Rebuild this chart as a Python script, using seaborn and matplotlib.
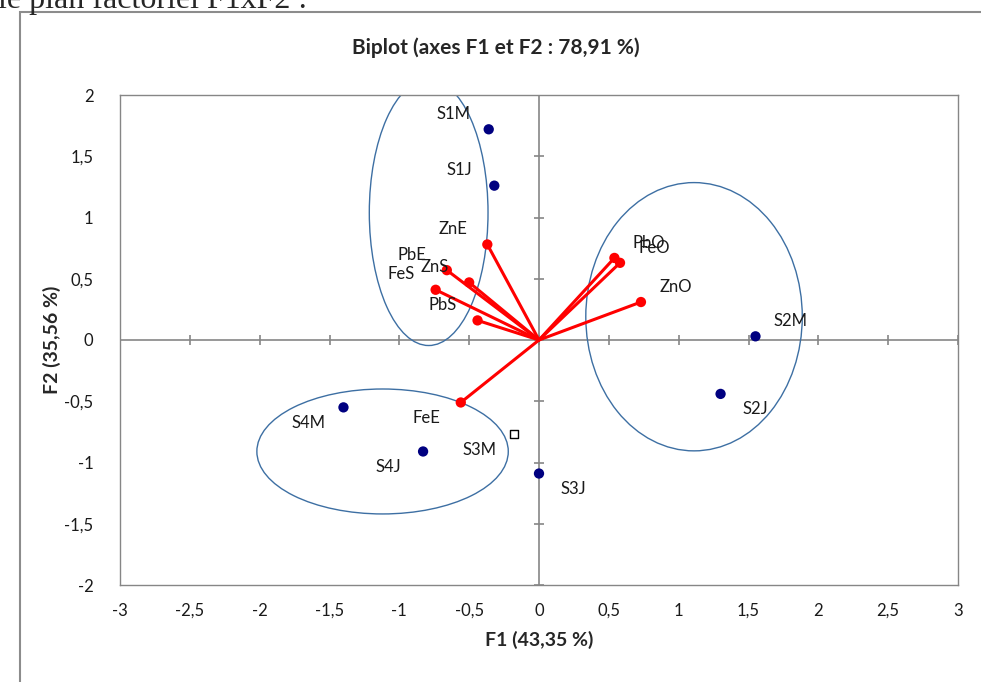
import numpy as np
import pandas as pd
import matplotlib.pyplot as plt
import seaborn as sns
from matplotlib.patches import Ellipse, Rectangle
from matplotlib.ticker import FuncFormatter

# Observations (factor scores on F1 / F2)
obs_names = ["S1M", "S1J", "S2M", "S2J", "S3J", "S4M", "S4J"]
obs_f1 = [-0.36, -0.32, 1.55, 1.30, 0.00, -1.40, -0.83]
obs_f2 = [1.72, 1.26, 0.03, -0.44, -1.09, -0.55, -0.91]

# S3M is drawn as a hollow square in the original
s3m_f1 = [-0.18]
s3m_f2 = [-0.77]

# Variables (loadings)
var_names = ["ZnE", "PbE", "ZnS", "FeS", "PbS", "FeE", "PbO", "FeO", "ZnO"]
var_f1 = [-0.37, -0.66, -0.50, -0.74, -0.44, -0.56, 0.54, 0.58, 0.73]
var_f2 = [0.78, 0.57, 0.47, 0.41, 0.16, -0.51, 0.67, 0.63, 0.31]

xticks = np.arange(-3, 3.01, 0.5)
yticks = np.arange(-2, 2.01, 0.5)

obs = pd.DataFrame({"name": obs_names, "F1": obs_f1, "F2": obs_f2})
var = pd.DataFrame({"name": var_names, "F1": var_f1, "F2": var_f2})

sns.set_style("white")
plt.rcParams["font.family"] = ["Lato", "DejaVu Sans"]

fig = plt.figure(figsize=(9.81, 6.82), dpi=100)
ax = fig.add_axes([120 / 981, 1 - 585 / 682, (958 - 120) / 981, (585 - 95) / 682])

# outer chart frame and cut text from the document page
fig.patches.append(Rectangle((20 / 981, -0.1), 1.2, 1 - 12 / 682 + 0.1,
                             transform=fig.transFigure, fill=False,
                             edgecolor="#8c8c8c", linewidth=1.5))
fig.text(-0.002, 1 - 8 / 682, "le plan factoriel F1xF2 :", family="Liberation Serif",
         fontsize=23, va="baseline", ha="left")

# zero axes with crossing tick marks
ax.axhline(0, color="#868686", lw=1.2, zorder=1)
ax.axvline(0, color="#868686", lw=1.2, zorder=1)
ax.scatter(xticks, np.zeros_like(xticks), marker="|", s=60, color="#868686", lw=1.2, zorder=1)
ax.scatter(np.zeros_like(yticks), yticks, marker="_", s=60, color="#868686", lw=1.2, zorder=1)

# ellipses grouping the sites
ell_color = "#3d6fa3"
ax.add_patch(Ellipse((-0.79, 1.04), 0.85, 2.17, fill=False, ec=ell_color, lw=1.0, zorder=2))
ax.add_patch(Ellipse((1.11, 0.19), 1.55, 2.19, fill=False, ec=ell_color, lw=1.0, zorder=2))
ax.add_patch(Ellipse((-1.12, -0.91), 1.80, 1.02, fill=False, ec=ell_color, lw=1.0, zorder=2))

# variable vectors
for _, r in var.iterrows():
    ax.plot([0, r.F1], [0, r.F2], color="#ff0000", lw=2.2, zorder=3)
sns.scatterplot(data=var, x="F1", y="F2", color="#ff0000", s=55, edgecolor="none",
                zorder=4, ax=ax, legend=False)

# observations
sns.scatterplot(data=obs, x="F1", y="F2", color="#000080", s=55, edgecolor="none",
                zorder=4, ax=ax, legend=False)
ax.scatter(s3m_f1, s3m_f2, marker="s", s=40, facecolor="white", edgecolor="black",
           lw=1.0, zorder=4)

# labels placed away from the origin
def label(names, xs, ys):
    for n, x, y in zip(names, xs, ys):
        sx = 1 if x >= 0 else -1
        sy = 1 if y >= 0 else -1
        ax.annotate(n, (x, y), xytext=(25 * sx, 11 * sy), textcoords="offset points",
                    ha="center", va="center", fontsize=12, color="#1a1a1a", zorder=5)

label(obs_names, obs_f1, obs_f2)
label(["S3M"], s3m_f1, s3m_f2)
label(var_names, var_f1, var_f2)

ax.set_xlim(-3, 3)
ax.set_ylim(-2, 2)
ax.set_xticks(xticks)
ax.set_yticks(yticks)
fmt = FuncFormatter(lambda v, p: f"{v:g}".replace(".", ","))
ax.xaxis.set_major_formatter(fmt)
ax.yaxis.set_major_formatter(fmt)
ax.tick_params(axis="x", length=0, pad=13, labelsize=12, colors="#1a1a1a")
ax.tick_params(axis="y", length=0, pad=19, labelsize=12, colors="#1a1a1a")
for s in ax.spines.values():
    s.set_color("#868686")
    s.set_linewidth(1.0)
ax.set_xlabel("")
ax.set_ylabel("")

fig.text(539 / 981, 1 - 640 / 682, "F1 (43,35 %)", fontsize=14, fontweight="bold",
         ha="center", va="center")
fig.text(52 / 981, 1 - 340 / 682, "F2 (35,56 %)", fontsize=14, fontweight="bold",
         ha="center", va="center", rotation=90)
fig.text(496 / 981, 1 - 48 / 682, "Biplot (axes F1 et F2 : 78,91 %)", fontsize=15,
         fontweight="bold", ha="center", va="center")

fig.savefig("out.png", dpi=100)
